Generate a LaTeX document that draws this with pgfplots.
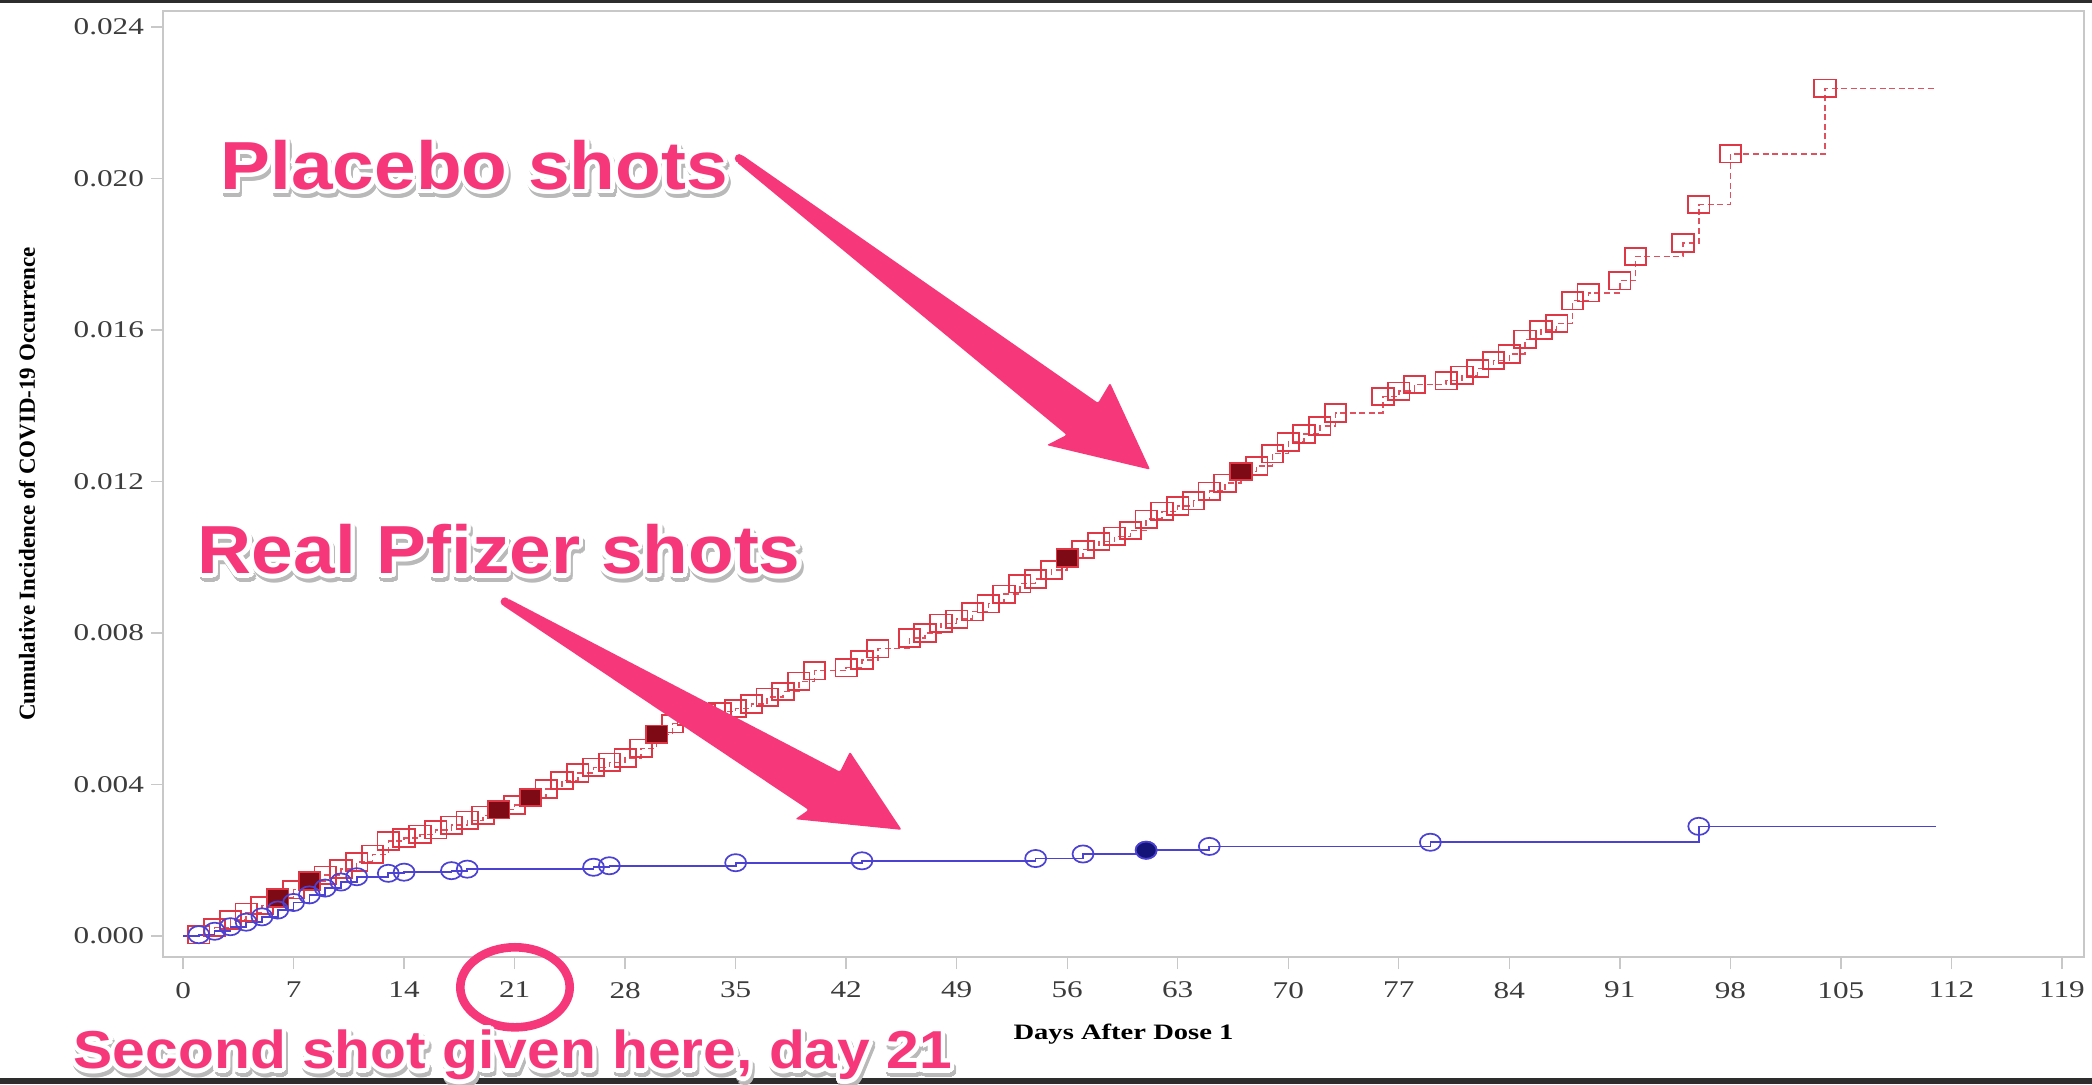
\documentclass[border=0pt]{standalone}
\usepackage{fontspec}
\setmainfont{Liberation Serif}[FakeStretch=1.3]
\newfontfamily\plainserif{Liberation Serif}
\newfontfamily\callout{Liberation Sans}[FakeStretch=1.1]
\usepackage{pgfplots}
\pgfplotsset{compat=1.18}
\usepackage{pgfplotstable}
\usepackage{contour}
\contourlength{2.2pt}
\contournumber{20}

\definecolor{plred}{RGB}{222,55,70}
\definecolor{plline}{RGB}{225,80,95}
\definecolor{pldark}{RGB}{125,10,20}
\definecolor{vxblue}{RGB}{75,65,210}
\definecolor{vxdark}{RGB}{20,20,120}
\definecolor{framegray}{RGB}{200,200,200}
\definecolor{textgray}{RGB}{60,60,60}
\definecolor{hotpink}{RGB}{246,56,122}
\definecolor{shadowgray}{RGB}{185,185,185}
\definecolor{band}{RGB}{45,45,45}

% placebo: cumulative incidence at each event day (0 and 111 are start/end of the line)
\pgfplotstableread{
day cum
0 0
1 0.00003
2 0.00022
3 0.00042
4 0.00062
5 0.00080
6 0.00100
7 0.00122
8 0.00145
9 0.00160
10 0.00176
11 0.00195
12 0.00215
13 0.00250
14 0.00258
15 0.00268
16 0.00280
17 0.00292
18 0.00305
19 0.00318
20 0.00333
21 0.00345
22 0.00365
23 0.00388
24 0.00410
25 0.00430
26 0.00445
27 0.00458
28 0.00470
29 0.00495
30 0.00532
31 0.00560
32 0.00580
33 0.00588
34 0.00592
35 0.00600
36 0.00612
37 0.00630
38 0.00645
39 0.00672
40 0.00700
42 0.00708
43 0.00728
44 0.00758
46 0.00786
47 0.00800
48 0.00825
49 0.00836
50 0.00856
51 0.00877
52 0.00902
53 0.00930
54 0.00942
55 0.00966
56 0.00998
57 0.01020
58 0.01041
59 0.01055
60 0.01070
61 0.01100
62 0.01121
63 0.01135
64 0.01149
65 0.01174
66 0.01195
67 0.01226
68 0.01241
69 0.01273
70 0.01304
71 0.01325
72 0.01346
73 0.01381
76 0.01424
77 0.01438
78 0.01456
80 0.01466
81 0.01480
82 0.01498
83 0.01519
84 0.01536
85 0.01575
86 0.01600
87 0.01617
88 0.01677
89 0.01698
91 0.01730
92 0.01794
95 0.01829
96 0.01931
98 0.02065
104 0.02238
111 0.02238
}\placebo

\pgfplotstableread{
day cum
6 0.00100
8 0.00145
20 0.00333
22 0.00365
30 0.00532
56 0.00998
67 0.01226
}\placebofilled

% vaccine arm
\pgfplotstableread{
day cum
0 0
1 0.00003
2 0.00012
3 0.00024
4 0.00036
5 0.00050
6 0.00068
7 0.00088
8 0.00108
9 0.00126
10 0.00142
11 0.00156
13 0.00165
14 0.00168
17 0.00172
18 0.00176
26 0.00181
27 0.00185
35 0.00193
43 0.00198
54 0.00204
57 0.00216
61 0.00226
65 0.00236
79 0.00247
96 0.00289
111 0.00289
}\vaccine

\pgfplotstableread{
day cum
61 0.00226
}\vaccinefilled

\newcommand{\pinktext}[3]{% x, y (baseline, image px), text
  \node[anchor=base west, inner sep=0, text=shadowgray] at (#1+1.5,#2+3)
    {\callout\bfseries\contour{shadowgray}{#3}};
  \node[anchor=base west, inner sep=0, text=hotpink] at (#1,#2)
    {\callout\bfseries\contour{white}{#3}};
}

\begin{document}
\begin{tikzpicture}
\path[use as bounding box] (0,0) rectangle (1046pt,542pt);
\fill[band] (0,0) rectangle (1046pt,3pt);
\fill[band] (0,540.5pt) rectangle (1046pt,542pt);
\begin{axis}[
  at={(81.5pt,63.5pt)}, anchor=south west,
  scale only axis, width=960.5pt, height=473pt,
  xmin=-1.27, xmax=120.4, ymin=-0.00056, ymax=0.02442,
  xtick={0,7,...,119},
  ytick={0,0.004,0.008,0.012,0.016,0.020,0.024},
  scaled y ticks=false,
  yticklabel style={/pgf/number format/.cd, fixed, fixed zerofill, precision=3},
  xticklabel style={yshift=-3pt},
  /pgf/number format/assume math mode=true,
  tick label style={font=\fontsize{12}{12}\selectfont, text=textgray},
  xtick pos=bottom, ytick pos=left,
  tick align=outside, major tick length=6pt,
  tick style={draw=framegray, line width=0.7pt},
  axis line style={draw=framegray, line width=0.9pt},
  xlabel={Days After Dose 1},
  ylabel={Cumulative Incidence of COVID-19 Occurrence},
  xlabel style={font=\fontsize{11}{11}\selectfont\bfseries, at={(axis description cs:0.5,0)}, anchor=center, yshift=-38.7pt},
  ylabel style={font=\fontsize{11.5}{11.5}\selectfont\plainserif\bfseries, at={(axis description cs:0,0.5)}, anchor=center, yshift=68pt},
  clip=false,
]
\addplot[const plot, draw=plline, line width=0.75pt, dash pattern=on 3pt off 1.8pt] table[x=day,y=cum] {\placebo};
\addplot[const plot, draw=vxblue, line width=0.85pt] table[x=day,y=cum] {\vaccine};
\addplot[only marks, mark=square, mark size=4.4pt, mark options={draw=plred, line width=0.9pt, xscale=1.22}]
  table[x=day,y=cum, restrict x to domain=0.5:110.5] {\placebo};
\addplot[only marks, mark=square*, mark size=4.4pt, mark options={draw=plred, fill=pldark, line width=0.9pt, xscale=1.22}]
  table[x=day,y=cum] {\placebofilled};
\addplot[only marks, mark=o, mark size=4.3pt, mark options={draw=vxblue, line width=0.85pt, xscale=1.22}]
  table[x=day,y=cum, restrict x to domain=0.5:110.5] {\vaccine};
\addplot[only marks, mark=*, mark size=4.3pt, mark options={draw=vxblue, fill=vxdark, line width=0.85pt, xscale=1.22}]
  table[x=day,y=cum] {\vaccinefilled};
\end{axis}

% annotations, in pixel units of the 1568x812 view (y downwards)
\begin{scope}[shift={(0pt,542pt)}, x=0.6671pt, y=-0.6671pt]
\fill[hotpink, rounded corners=1pt]
  (552,121.5) -- (799.5,326) -- (784.5,333.6) -- (862,352) -- (832,287)
  -- (823,302) -- (556,116) -- cycle;
\fill[hotpink] (554,118.8) circle (3.3);
\fill[hotpink, rounded corners=1pt]
  (376.5,453.5) -- (606,607) -- (596,614) -- (675.8,622) -- (637,563.4)
  -- (629.6,578.4) -- (380.5,448.5) -- cycle;
\fill[hotpink] (378.5,451) circle (3.3);
\draw[hotpink, line width=4.3pt] (386,740) ellipse (41 and 30);
\pinktext{165}{142}{\fontsize{34}{34}\selectfont Placebo shots}
\pinktext{148}{430}{\fontsize{34}{34}\selectfont Real Pfizer shots}
\pinktext{55}{801}{\fontsize{26.7}{26.7}\selectfont Second shot given here, day 21}
\end{scope}
\end{tikzpicture}
\end{document}
